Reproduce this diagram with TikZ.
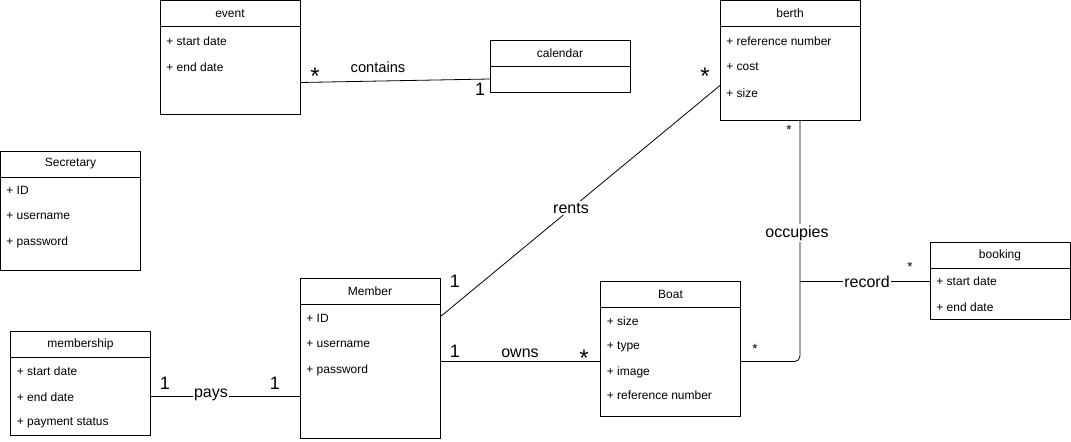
\documentclass[tikz,border=0pt]{standalone}
\usepackage{fontspec}
\setmainfont{Liberation Sans}
\usepackage{tikz}
\usetikzlibrary{positioning, calc}

\begin{document}
\begin{tikzpicture}[
    x=0.75pt, y=-0.75pt, line width=0.6pt,
    classname/.style={rectangle, draw, minimum width=105pt, minimum height=19.5pt, inner sep=0pt, outer sep=0pt, anchor=north west, font=\fontsize{9}{11}\selectfont},
    classbody/.style={rectangle, draw, minimum width=105pt, inner sep=0pt, outer sep=0pt, anchor=north},
    attr/.style={anchor=west, inner sep=0pt, font=\fontsize{9}{11}\selectfont},
    mult/.style={inner sep=0pt, font=\fontsize{13.5}{15}\selectfont},
    manymult/.style={inner sep=0pt, font=\fontsize{18}{20}\selectfont},
    smallmult/.style={inner sep=0pt, font=\fontsize{10}{12}\selectfont},
    rel/.style={fill=white, inner sep=1pt, font=\fontsize{12}{14}\selectfont},
    assoc/.style={draw}
]
\useasboundingbox (0,0) rectangle (1071,442);

% event
\node[classname] (event) at (160,0.5) {event};
\node[classbody, minimum height=66pt] (eventbody) at (event.south) {};
\node[attr] (eventstart) at (166,41) {+ start date};
\node[attr] (eventend) at (166,67) {+ end date};

% calendar
\node[classname] (calendar) at (490,40) {calendar};
\node[classbody, minimum height=19.5pt] (calendarbody) at (calendar.south) {};

% berth
\node[classname] (berth) at (720,0.5) {berth};
\node[classbody, minimum height=70.5pt] (berthbody) at (berth.south) {};
\node[attr] (berthref) at (726,41) {+ reference number};
\node[attr] (berthcost) at (726,67) {+ cost};
\node[attr] (berthsize) at (726,93) {+ size};

% Secretary
\node[classname] (secretary) at (0.5,151) {Secretary};
\node[classbody, minimum height=69.75pt] (secretarybody) at (secretary.south) {};
\node[attr] (secid) at (6,190) {+ ID};
\node[attr] (secuser) at (6,216) {+ username};
\node[attr] (secpass) at (6,242) {+ password};

% membership
\node[classname] (membership) at (10.5,331.5) {membership};
\node[classbody, minimum height=58.5pt] (membershipbody) at (membership.south) {};
\node[attr] (msstart) at (16.5,371) {+ start date};
\node[attr] (msend) at (16.5,397) {+ end date};
\node[attr] (mspay) at (16.5,423) {+ payment status};

% Member
\node[classname] (member) at (300,278) {Member};
\node[classbody, minimum height=100.5pt] (memberbody) at (member.south) {};
\node[attr] (memid) at (306,318) {+ ID};
\node[attr] (memuser) at (306,344) {+ username};
\node[attr] (mempass) at (306,370) {+ password};

% Boat
\node[classname] (boat) at (600.5,281) {Boat};
\node[classbody, minimum height=81.75pt] (boatbody) at (boat.south) {};
\node[attr] (boatsize) at (606.5,321) {+ size};
\node[attr] (boattype) at (606.5,347) {+ type};
\node[attr] (boatimage) at (606.5,372) {+ image};
\node[attr] (boatref) at (606.5,395) {+ reference number};

% booking
\node[classname] (booking) at (930,242) {booking};
\node[classbody, minimum height=38.25pt] (bookingbody) at (booking.south) {};
\node[attr] (bookingstart) at (936,281) {+ start date};
\node[attr] (bookingend) at (936,307) {+ end date};

% Associations
\coordinate (berthfoot) at ([xshift=7.5pt]berthbody.south);
\draw[assoc] ([yshift=-9pt]eventbody.east) -- (calendarbody.west);
\draw[assoc] ([yshift=40.5pt]memberbody.east) -- ([yshift=-9pt]berthbody.west);
\draw[assoc] (boatbody.west -| memberbody.east) -- (boatbody.west);
\draw[assoc] (membershipbody.east) -- (membershipbody.east -| memberbody.west);
\draw[assoc, rounded corners=4pt] (boatbody.east) -| (berthfoot);
\draw[assoc] (bookingstart -| berthfoot) -- (bookingstart -| bookingbody.west);

% Association labels
\node[manymult] at (315,76) {*};
\node[font=\fontsize{11}{13}\selectfont] at (378,67) {contains};
\node[mult] at (480,89) {1};

\node[manymult] at (705,76) {*};
\node[rel] at (571,208) {rents};
\node[mult] at (455,281) {1};

\node[mult] at (455,351) {1};
\node[font=\fontsize{12}{14}\selectfont] at (520,353) {owns};
\node[manymult] at (584,358) {*};

\node[mult] at (165,383) {1};
\node[rel] at (211,395) {pays};
\node[mult] at (275,383) {1};

\node[smallmult] at (755,349) {*};
\node[rel] at (797,233) {occupies};
\node[smallmult] at (789,130) {*};

\node[rel] at (867,282) {record};
\node[smallmult] at (910,267) {*};

\end{tikzpicture}
\end{document}
